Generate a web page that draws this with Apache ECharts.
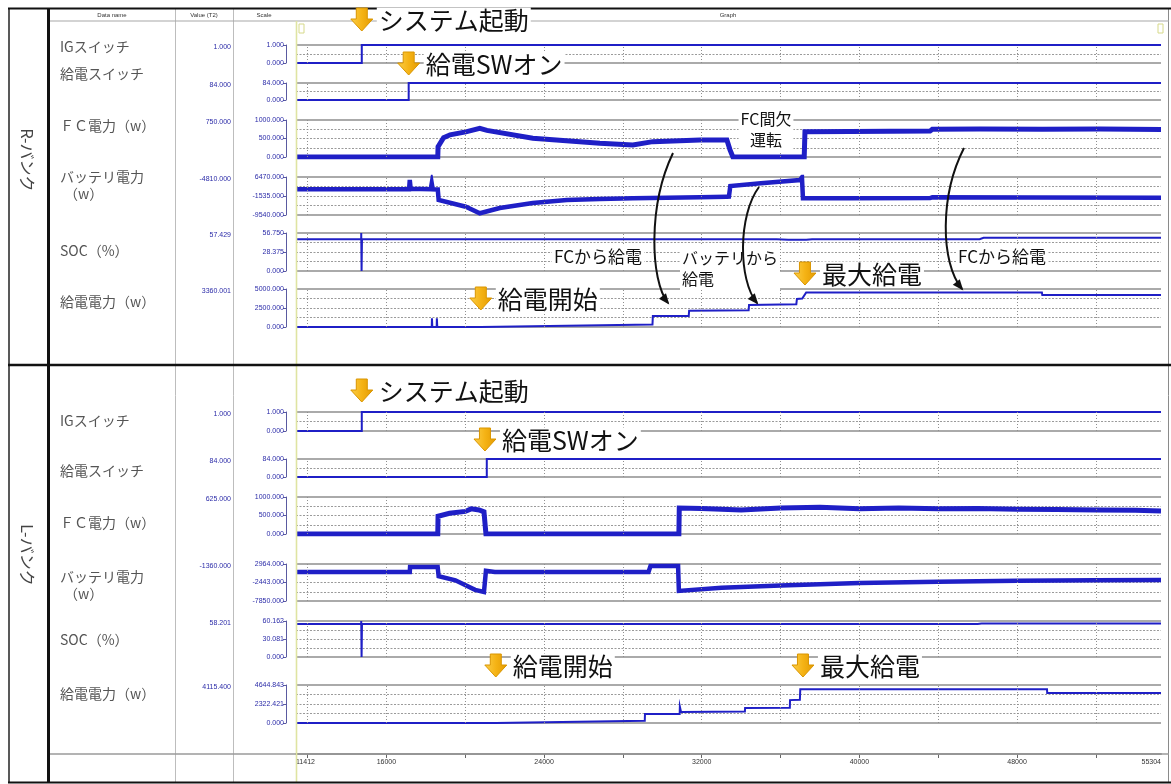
<!DOCTYPE html>
<html>
<head>
<meta charset="utf-8">
<script src="https://cdn.jsdelivr.net/npm/echarts@6/dist/echarts.min.js"></script>
<style>
  html, body { margin: 0; padding: 0; background: #ffffff; }
  #chart { width: 1171px; height: 784px; }
</style>
</head>
<body>
<div id="chart"></div>
<script>
// ---- time axis (s) ----
const T_START = 11412;
const T_END = 55304;
const TIME_LABELS = [11412, 16000, 24000, 32000, 40000, 48000, 55304];
const TIME_TICKS = [12000, 16000, 20000, 24000, 28000, 32000, 36000, 40000, 44000, 48000, 52000];

// ---- row names ----
const ROW_NAMES = ['IGスイッチ', '給電スイッチ', 'ＦＣ電力（w）', 'バッテリ電力\n（w）', 'SOC（%）', '給電電力（w）'];
const BANK_NAMES = ['R-バンク', 'L-バンク'];

// ---- scale ranges [min, max] per row ----
const R_SCALES = [[0, 1], [0, 84], [0, 1000], [-9540, 6470], [0, 56.75], [0, 5000]];
const L_SCALES = [[0, 1], [0, 84], [0, 1000], [-7850, 2964], [0, 60.162], [0, 4644.843]];

// ---- cursor values (Value(T2) column) ----
const R_VALUES = ['1.000', '84.000', '750.000', '-4810.000', '57.429', '3360.001'];
const L_VALUES = ['1.000', '84.000', '625.000', '-1360.000', '58.201', '4115.400'];

// ---- R bank signals [time, value] ----
const R_IG = [[11412, 0], [14750, 0], [14750, 1], [55304, 1]];
const R_SW = [[11412, 0], [17130, 0], [17130, 84], [55304, 84]];
const R_FC = [[11412, 0], [18606, 0], [18620, 280], [18900, 520], [19230, 600], [20027, 680], [20738, 775],
  [21100, 720], [23428, 505], [26830, 370], [28505, 325], [29520, 415], [31906, 460], [33277, 460],
  [33430, 200], [33582, 0], [37200, 0], [37238, 685], [39523, 690], [43584, 700], [43700, 750],
  [46123, 760], [49271, 750], [52216, 755], [55304, 745]];
const R_BAT = [[11412, 1290], [17150, 1290], [17185, 5200], [17230, 1500], [18250, 1350], [18300, 3800],
  [18350, 1300], [18606, 1200], [18650, -3220], [20027, -6040], [20738, -8820], [21753, -6590],
  [23428, -4480], [25154, -3220], [26830, -2800], [28505, -2500], [30231, -2250], [31906, -2080],
  [33277, -1830], [33380, -1800], [33450, 2680], [35000, 3800], [36984, 5200], [37085, 6340],
  [37136, -2500], [39523, -2450], [43584, -2400], [43700, -2100], [49000, -2200], [55304, -2250]];
const R_SOC = [[11412, 47.5], [14720, 47.5], [14722, 56.75], [14740, 0], [14760, 47.5], [35800, 47.5],
  [36400, 46.5], [37300, 46.5], [37600, 47.5], [46100, 47.5], [46300, 49.5], [55304, 49.5]];
const R_PWR = [[11412, 0], [18300, 0], [18310, 1150], [18330, 0], [18550, 0], [18560, 1150], [18580, 0],
  [20789, 0], [20800, 230], [29500, 330], [29520, 1450], [31340, 1450], [31360, 2150], [34380, 2200],
  [34400, 2900], [36800, 3000], [36830, 3700], [37100, 3750], [37300, 4550], [49260, 4550],
  [49280, 4200], [55304, 4200]];

// ---- L bank signals [time, value] ----
const L_IG = [[11412, 0], [14750, 0], [14750, 1], [55304, 1]];
const L_SW = [[11412, 0], [21093, 0], [21093, 84], [55304, 84]];
const L_FC = [[11412, 0], [18606, 0], [18620, 480], [19200, 560], [20000, 610], [20300, 680], [20700, 650],
  [20950, 600], [21050, 0], [30840, 0], [30860, 700], [32000, 690], [34000, 650], [36000, 700],
  [38000, 720], [40000, 680], [42000, 700], [44000, 680], [46000, 690], [48000, 670], [50000, 660],
  [52000, 650], [54000, 640], [55304, 620]];
const L_BAT = [[11412, 630], [17185, 630], [17200, 2100], [18600, 2100], [18650, -600], [19500, -1800],
  [20500, -4600], [20950, -5200], [21050, 1000], [21500, 650], [29300, 650], [29400, 2350], [30800, 2400],
  [30840, -4900], [33000, -4000], [36000, -3300], [40000, -2600], [44000, -2200], [48000, -1900],
  [52000, -1750], [55304, -1700]];
const L_SOC = [[11412, 55], [14720, 55], [14722, 60.162], [14740, 0], [14760, 55], [46000, 55],
  [46200, 56], [55304, 56]];
const L_PWR = [[11412, 0], [21550, 0], [21560, 240], [29110, 260], [29120, 1100], [30880, 1100],
  [30890, 2000], [30950, 1350], [34190, 1400], [34200, 1830], [36470, 1850], [36480, 2800],
  [36980, 2850], [37000, 4115], [49520, 4115], [49530, 3670], [55304, 3670]];

const R_SIGNALS = [R_IG, R_SW, R_FC, R_BAT, R_SOC, R_PWR];
const L_SIGNALS = [L_IG, L_SW, L_FC, L_BAT, L_SOC, L_PWR];

// ---- event annotations: [bank, time, label] ----
const EVENTS = [
  ['R', 14750, 'システム起動'], ['R', 17130, '給電SWオン'], ['R', 20789, '給電開始'], ['R', 37238, '最大給電'],
  ['L', 14750, 'システム起動'], ['L', 21000, '給電SWオン'], ['L', 21550, '給電開始'], ['L', 37136, '最大給電']
];

// ---------------- layout ----------------
const GRID_LEFT = 296, GRID_WIDTH = 865;
const ROW_BOX = [
  [45, 18], [83, 17], [120, 37], [177, 38], [233, 38], [289, 38],
  [412, 19], [459, 18], [497, 37], [564, 37], [621, 36], [685, 38]
];
const NAME_Y = [[47, 74, 126, 177, 251, 302], [421, 471, 523, 577, 640, 694]];
const LINE_W = [2, 2, 5, 4.5, 2, 2];
const BLUE = '#1f1fc6';
const SCALE_BLUE = '#2b2ba8';
const fmt3 = v => (Math.abs(v) < 1e-9 ? 0 : v).toFixed(3);

const grids = [], xAxes = [], yAxes = [], series = [];
const allSignals = R_SIGNALS.concat(L_SIGNALS);
const allScales = R_SCALES.concat(L_SCALES);

allSignals.forEach((data, i) => {
  const [top, h] = ROW_BOX[i];
  const [mn, mx] = allScales[i];
  const row = i % 6;
  const divs = row < 2 ? 2 : 4;
  const inner = [];
  for (let k = 1; k < divs; k++) inner.push(mn + (mx - mn) * k / divs);
  const labelVals = row < 2 ? [mn, mx] : [mn, (mn + mx) / 2, mx];

  grids.push({ left: GRID_LEFT, width: GRID_WIDTH, top: top, height: h, outerBoundsMode: 'none' });
  xAxes.push({
    type: 'value', gridIndex: i, min: T_START, max: T_END,
    axisLine: { show: false }, axisLabel: { show: false },
    axisTick: { show: false },
    splitLine: { show: false }
  });
  // dotted interior lines
  yAxes.push({
    type: 'value', gridIndex: i, min: mn, max: mx,
    axisLine: { show: false }, axisLabel: { show: false },
    axisTick: { show: false, customValues: inner },
    splitLine: { show: true, lineStyle: { color: '#9a9a9a', type: [2, 1.5], width: 1 } }
  });
  // solid row frame
  yAxes.push({
    type: 'value', gridIndex: i, min: mn, max: mx, z: 1,
    axisLine: { show: false }, axisLabel: { show: false },
    axisTick: { show: false, customValues: [mn, mx] },
    splitLine: { show: true, lineStyle: { color: '#8e8e8e', type: 'solid', width: 1.5 } }
  });
  // scale bracket with labels
  yAxes.push({
    type: 'value', gridIndex: i, min: mn, max: mx, position: 'left', offset: 10,
    axisLine: { show: true, lineStyle: { color: '#5a5aa0', width: 1 } },
    axisTick: { show: true, length: 3, customValues: labelVals, lineStyle: { color: '#5a5aa0', width: 1 } },
    axisLabel: {
      show: true, customValues: labelVals, margin: 2, formatter: v => fmt3(v),
      fontSize: 7, color: SCALE_BLUE, fontFamily: 'Liberation Sans'
    },
    splitLine: { show: false }
  });
  series.push({
    type: 'line', xAxisIndex: i, yAxisIndex: i * 3, data: data,
    showSymbol: false, symbol: 'none', animation: false, silent: true, z: 3,
    lineStyle: { color: BLUE, width: LINE_W[row], join: 'miter' },
    // vertical time grid inside the row
    markLine: {
      silent: true, symbol: 'none', animation: false, label: { show: false },
      lineStyle: { color: '#8f8f8f', type: [1, 2], width: 1 },
      emphasis: { disabled: true },
      data: TIME_TICKS.map(t => ({ xAxis: t }))
    }
  });
});

// time axis row
const AXIS_GRID = grids.length;
grids.push({ left: GRID_LEFT, width: GRID_WIDTH, top: 753, height: 1, outerBoundsMode: 'none' });
xAxes.push({
  type: 'value', gridIndex: AXIS_GRID, min: T_START, max: T_END, position: 'bottom',
  axisLine: { show: true, lineStyle: { color: '#8a8a8a', width: 2 } },
  axisTick: { show: true, length: 4, inside: false, customValues: TIME_TICKS, lineStyle: { color: '#666' } },
  axisLabel: {
    show: true, customValues: TIME_LABELS, margin: 5, fontSize: 7, color: '#333',
    fontFamily: 'Liberation Sans', alignMinLabel: 'left', alignMaxLabel: 'right',
    formatter: v => String(v)
  },
  splitLine: { show: false }
});
yAxes.push({ type: 'value', gridIndex: AXIS_GRID, show: false, min: 0, max: 1 });

// ---------------- table frame and texts ----------------
const g = [];
const hline = (x1, x2, y, color, w) => g.push({ type: 'line', silent: true, z: 50, shape: { x1, y1: y, x2, y2: y }, style: { stroke: color, lineWidth: w } });
const vline = (x, y1, y2, color, w) => g.push({ type: 'line', silent: true, z: 50, shape: { x1: x, y1, x2: x, y2 }, style: { stroke: color, lineWidth: w } });

vline(175.5, 9, 782, '#bdbdbd', 1);
vline(233.5, 9, 782, '#bdbdbd', 1);
vline(1168.5, 9, 782, '#8a8a8a', 1);
hline(48, 1169, 21, '#a8a8a8', 1.2);
hline(48, 1169, 754, '#9a9a9a', 1.5);
vline(296.5, 21, 782, '#dfe4a2', 1.6);
vline(9, 8, 783, '#222', 1.5);
vline(48.5, 8, 783, '#111', 3);
hline(8, 1171, 8.5, '#111', 2);
hline(8, 1171, 365, '#111', 2.5);
hline(8, 1171, 782.5, '#111', 2);
// cursor markers
g.push({ type: 'rect', silent: true, z: 50, shape: { x: 299, y: 24, width: 5, height: 9 }, style: { fill: 'none', stroke: '#d6d98a', lineWidth: 1 } });
g.push({ type: 'rect', silent: true, z: 50, shape: { x: 1158, y: 24, width: 5, height: 9 }, style: { fill: 'none', stroke: '#d6d98a', lineWidth: 1 } });

// header captions
[['Data name', 112], ['Value (T2)', 204], ['Scale', 264], ['Graph', 728]].forEach(([t, x]) => {
  g.push({ type: 'text', silent: true, z: 60, style: { text: t, x: x, y: 15, fill: '#333', font: '6px "Liberation Sans"', align: 'center', verticalAlign: 'middle' } });
});

// bank titles (rotated)
[[BANK_NAMES[0], 160], [BANK_NAMES[1], 555]].forEach(([t, y]) => {
  g.push({ type: 'text', silent: true, z: 60, x: 27, y: y, rotation: -Math.PI / 2,
    style: { text: t, x: 0, y: 0, fill: '#444', font: '16px "Noto Sans CJK JP"', align: 'center', verticalAlign: 'middle' } });
});

// row names and cursor values
[0, 1].forEach(b => {
  const vals = b === 0 ? R_VALUES : L_VALUES;
  ROW_NAMES.forEach((name, r) => {
    const lines = name.split('\n');
    lines.forEach((ln, k) => {
      g.push({ type: 'text', silent: true, z: 60, style: {
        text: ln, x: k === 0 ? 60 : 64, y: NAME_Y[b][r] + k * 17, fill: '#555',
        font: '14px "Noto Sans CJK JP"', align: 'left', verticalAlign: 'middle' } });
    });
    const top = ROW_BOX[b * 6 + r][0];
    g.push({ type: 'text', silent: true, z: 60, style: {
      text: vals[r], x: 231, y: top + 2, fill: SCALE_BLUE, font: '7px "Liberation Sans"',
      align: 'right', verticalAlign: 'middle' } });
  });
});

// free-standing notes
const note = (text, x, y, size, align) => g.push({ type: 'text', silent: true, z: 80, style: {
  text, x, y, fill: '#111', font: size + 'px "Noto Sans CJK JP"', align: align || 'left',
  verticalAlign: 'middle', backgroundColor: '#ffffff', padding: [1, 2], lineHeight: size + 5 } });

note('FC間欠\n運転', 766, 129, 16, 'center');
note('FCから給電', 552, 257, 17);
note('バッテリから\n給電', 680, 268, 16);
note('FCから給電', 956, 257, 17);

// curved pointer arrows
const curves = [
  [673, 153, 648, 205, 650, 280, 668, 303],
  [759, 187, 738, 215, 738, 280, 757, 303],
  [964, 148, 940, 195, 940, 262, 962, 289]
];
curves.forEach(([x1, y1, c1x, c1y, c2x, c2y, x2, y2]) => {
  g.push({ type: 'bezierCurve', silent: true, z: 85, shape: { x1, y1, cpx1: c1x, cpy1: c1y, cpx2: c2x, cpy2: c2y, x2, y2 },
    style: { stroke: '#111', lineWidth: 2, fill: 'none' } });
  const ang = Math.atan2(y2 - c2y, x2 - c2x);
  const L = 9, W = 4.5;
  const bx = x2 - L * Math.cos(ang), by = y2 - L * Math.sin(ang);
  g.push({ type: 'polygon', silent: true, z: 86, shape: { points: [
    [x2 + 2 * Math.cos(ang), y2 + 2 * Math.sin(ang)],
    [bx - W * Math.sin(ang), by + W * Math.cos(ang)],
    [bx + W * Math.sin(ang), by - W * Math.cos(ang)]] }, style: { fill: '#111' } });
});

const option = {
  animation: false,
  backgroundColor: '#ffffff',
  grid: grids, xAxis: xAxes, yAxis: yAxes, series: series,
  graphic: { elements: g }
};

const chart = echarts.init(document.getElementById('chart'));
chart.setOption(option);

// event markers placed on the time axis
const EVENT_TOP = { R: { 'システム起動': 8, '給電SWオン': 52, '給電開始': 287, '最大給電': 262 },
                    L: { 'システム起動': 379, '給電SWオン': 428, '給電開始': 654, '最大給電': 654 } };
const evg = [];
EVENTS.forEach(([bank, t, label]) => {
  const x = chart.convertToPixel({ xAxisIndex: bank === 'R' ? 0 : 6 }, t);
  const top = EVENT_TOP[bank][label];
  evg.push({ type: 'polygon', silent: true, z: 90, shape: { points: [
    [x - 5.5, top], [x + 5.5, top], [x + 5.5, top + 11], [x + 11, top + 11], [x, top + 23],
    [x - 11, top + 11], [x - 5.5, top + 11]] },
    style: { fill: { type: 'linear', x: 0, y: 0, x2: 1, y2: 0, colorStops: [
      { offset: 0, color: '#fbcf4a' }, { offset: 0.5, color: '#f5b315' }, { offset: 1, color: '#e39a00' }] },
      stroke: '#d99500', lineWidth: 1 } });
  evg.push({ type: 'text', silent: true, z: 90, style: {
    text: label, x: x + 15, y: top + 12, fill: '#111', font: '25px "Noto Sans CJK JP"',
    align: 'left', verticalAlign: 'middle', backgroundColor: '#ffffff', padding: [0, 2] } });
});
chart.setOption({ graphic: { elements: g.concat(evg) } });
</script>
</body>
</html>
